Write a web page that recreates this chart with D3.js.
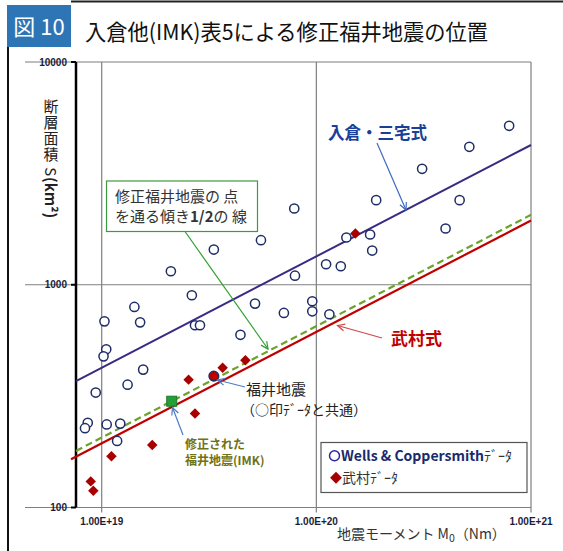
<!DOCTYPE html>
<html>
<head>
<meta charset="utf-8">
<script src="https://cdn.jsdelivr.net/npm/d3@7"></script>
<style>
  body { margin: 0; background: #fff; }
  svg { display: block; font-family: "Noto Sans CJK JP", "Noto Sans", sans-serif; }
</style>
</head>
<body>
<svg id="chart" width="563" height="551"></svg>
<script>
// Wells & Coppersmith dataset: seismic moment M0 (Nm) and fault area S (km²)
const wcM0 = [2.63e19, 1.42e19, 5.18e19, 1.03e19, 1.51e19, 2.72e19, 2.87e19, 7.06e19, 4.43e19,
  1.05e19, 1.02e19, 1.56e19, 1.32e19, 0.938e19, 0.861e19, 0.836e19, 1.055e19, 1.22e19, 1.18e19,
  7.89e19, 5.52e19, 3.33e19, 2.10e19, 7.95e19, 9.57e19, 9.57e19, 11.5e19, 79.1e19, 51.6e19,
  31.1e19, 19.0e19, 46.5e19, 40.0e19, 13.8e19, 17.8e19, 18.2e19, 11.1e19, 13.0e19];
const wcS = [897, 795, 823, 685, 678, 658, 658, 747, 596,
  513, 477, 416, 356, 328, 240, 227, 236, 238, 199,
  2200, 1585, 1439, 1150, 1098, 843, 760, 737, 5172, 4163,
  3314, 2398, 2398, 1789, 1630, 1681, 1424, 1236, 1211];

// Takemura dataset
const tkM0 = [2.54e19, 3.66e19, 4.67e19, 2.72e19, 1.72e19, 1.11e19, 0.889e19, 0.914e19, 15.2e19];
const tkS = [375, 424, 458, 264, 191, 170, 131, 119, 1699];

// Fukui earthquake (shared by both datasets) and the IMK-revised Fukui earthquake
const fukuiM0 = 3.33e19, fukuiS = 389;
const imkM0 = 2.12e19, imkS = 300;

// Scaling relations S = c * M0^(1/2)
const irikuraCoef = 4.24e-11 * Math.sqrt(1e7);   // Irikura–Miyake (dyne·cm converted to Nm)
const takemuraCoef = 6.14e-8;                     // Takemura
const halfSlopeCoef = imkS / Math.sqrt(imkM0);    // slope 1/2 through the revised Fukui point

const yTicks = [100, 1000, 10000];
const yTickLabels = ["100", "1000", "10000"];
const xTicks = [1e19, 1e20, 1e21];
const xTickLabels = ["1.00E+19", "1.00E+20", "1.00E+21"];

const svg = d3.select("#chart");

const x = d3.scaleLog().domain([1e19, 1e21]).range([101.7, 531]);
const y = d3.scaleLog().domain([100, 10000]).range([507.5, 62]);
const plotLeft = 76, plotRight = 531;
const xMin = x.invert(plotLeft);

// ---- frame & header ----
svg.append("line").attr("x1", 8).attr("x2", 8).attr("y1", 47).attr("y2", 551)
  .attr("stroke", "#111").attr("stroke-width", 2);
svg.append("line").attr("x1", 71).attr("x2", 563).attr("y1", 1.5).attr("y2", 1.5)
  .attr("stroke", "#222").attr("stroke-width", 2);
svg.append("rect").attr("x", 7).attr("y", 5).attr("width", 64).attr("height", 42).attr("fill", "#2e75b6");
svg.append("text").attr("x", 39).attr("y", 35).attr("text-anchor", "middle")
  .attr("fill", "#fff").attr("font-size", 22).text("図 10");
svg.append("text").attr("x", 85).attr("y", 40).attr("font-size", 22).attr("fill", "#111")
  .attr("textLength", 403).attr("lengthAdjust", "spacingAndGlyphs")
  .text("入倉他(IMK)表5による修正福井地震の位置");

// ---- grid ----
const grid = svg.append("g").attr("stroke", "#7f7f7f").attr("stroke-width", 1.2);
yTicks.forEach(v => {
  grid.append("line").attr("x1", 25).attr("x2", plotRight).attr("y1", y(v)).attr("y2", y(v));
});
xTicks.forEach(v => {
  grid.append("line").attr("x1", x(v)).attr("x2", x(v)).attr("y1", y(10000)).attr("y2", y(100) + 5);
});

// left axis (thick) with ticks
svg.append("line").attr("x1", plotLeft).attr("x2", plotLeft).attr("y1", y(10000)).attr("y2", y(100))
  .attr("stroke", "#000").attr("stroke-width", 2.5);
yTicks.forEach(v => {
  svg.append("line").attr("x1", plotLeft - 5).attr("x2", plotLeft).attr("y1", y(v)).attr("y2", y(v))
    .attr("stroke", "#000").attr("stroke-width", 2);
});

// tick labels
const tickFont = "'Liberation Sans', Arial, sans-serif";
yTicks.forEach((v, i) => {
  svg.append("text").attr("x", 67).attr("y", y(v) + 3.5).attr("text-anchor", "end")
    .attr("font-family", tickFont).attr("font-size", 10).attr("font-weight", "bold")
    .attr("fill", "#1c1c3a").text(yTickLabels[i]);
});
xTicks.forEach((v, i) => {
  svg.append("text").attr("x", x(v)).attr("y", 525).attr("text-anchor", "middle")
    .attr("font-family", tickFont).attr("font-size", 10).attr("font-weight", "bold")
    .attr("fill", "#1c1c3a").text(xTickLabels[i]);
});

// axis titles
const xt = svg.append("text").attr("x", 337).attr("y", 539).attr("font-size", 14).attr("fill", "#333");
xt.append("tspan").text("地震モーメント M");
xt.append("tspan").attr("font-size", 10.5).attr("dy", 3).text("0");
xt.append("tspan").attr("dy", -3).text("（Nm）");

const yt = svg.append("text").attr("x", 51).attr("y", 99).attr("font-size", 15).attr("fill", "#222")
  .style("writing-mode", "vertical-rl").attr("letter-spacing", 1);
yt.append("tspan").text("断層面積 S");
yt.append("tspan").attr("font-weight", "bold").attr("letter-spacing", 0).text("(km²)");

// ---- relation lines ----
const lineGen = coef => d3.line()
  .x(d => x(d)).y(d => y(coef * Math.sqrt(d)));

svg.append("path").datum([xMin, 1e21]).attr("d", lineGen(irikuraCoef))
  .attr("fill", "none").attr("stroke", "#3b2a84").attr("stroke-width", 2);
svg.append("path").datum([x.invert(71), 1e21]).attr("d", lineGen(takemuraCoef))
  .attr("fill", "none").attr("stroke", "#c00000").attr("stroke-width", 2.2);
svg.append("path").datum([xMin, 1e21]).attr("d", lineGen(halfSlopeCoef))
  .attr("fill", "none").attr("stroke", "#6ba32a").attr("stroke-width", 2.2)
  .attr("stroke-dasharray", "7,4");

// ---- markers ----
svg.append("g").selectAll("circle").data(d3.range(wcM0.length)).join("circle")
  .attr("cx", i => x(wcM0[i])).attr("cy", i => y(wcS[i])).attr("r", 4.6)
  .attr("fill", "#fff").attr("stroke", "#1f2d66").attr("stroke-width", 1.5);

const diamond = d3.symbol().type(d3.symbolDiamond2).size(70);
svg.append("g").selectAll("path").data(d3.range(tkM0.length)).join("path")
  .attr("d", diamond)
  .attr("transform", i => `translate(${x(tkM0[i])},${y(tkS[i])})`)
  .attr("fill", "#a80000");

svg.append("circle").attr("cx", x(fukuiM0)).attr("cy", y(fukuiS)).attr("r", 4.8)
  .attr("fill", "#c00000").attr("stroke", "#1f2d66").attr("stroke-width", 1.5);

svg.append("rect").attr("x", x(imkM0) - 5).attr("y", y(imkS) - 5).attr("width", 10).attr("height", 10)
  .attr("fill", "#22a035").attr("stroke", "#1a7a2a").attr("stroke-width", 1);

// ---- annotations ----
function arrow(x1, y1, x2, y2, color, w) {
  const g = svg.append("g").attr("stroke", color).attr("stroke-width", w || 1.2).attr("fill", "none");
  g.append("line").attr("x1", x1).attr("y1", y1).attr("x2", x2).attr("y2", y2);
  const a = Math.atan2(y2 - y1, x2 - x1), L = 8, s = 0.45;
  g.append("polyline").attr("points", [
    [x2 - L * Math.cos(a - s), y2 - L * Math.sin(a - s)], [x2, y2],
    [x2 - L * Math.cos(a + s), y2 - L * Math.sin(a + s)]].map(p => p.join(",")).join(" "));
}

// Irikura–Miyake label
svg.append("text").attr("x", 328).attr("y", 139).attr("font-size", 17).attr("font-weight", "bold")
  .attr("fill", "#1a3f99").attr("textLength", 99).attr("lengthAdjust", "spacingAndGlyphs")
  .text("入倉・三宅式");
arrow(377, 143, 406, 210, "#3d6bbf");

// Takemura label
svg.append("text").attr("x", 391).attr("y", 345).attr("font-size", 17).attr("font-weight", "bold")
  .attr("fill", "#c00000").text("武村式");
arrow(382, 338, 337.5, 325.5, "#d04848");

// slope-1/2 callout box
svg.append("rect").attr("x", 106.5).attr("y", 181).attr("width", 151).attr("height", 50.5)
  .attr("fill", "#fff").attr("stroke", "#3f9a3f").attr("stroke-width", 1.2);
svg.append("text").attr("x", 115).attr("y", 202).attr("font-size", 15).attr("fill", "#333")
  .text("修正福井地震の 点");
const t2 = svg.append("text").attr("x", 115).attr("y", 222).attr("font-size", 15).attr("fill", "#333");
t2.append("tspan").text("を通る傾き");
t2.append("tspan").attr("font-weight", "bold").text("1/2");
t2.append("tspan").text("の 線");
arrow(185, 231.5, 268, 349, "#2fa02f");

// Fukui earthquake label
svg.append("text").attr("x", 246).attr("y", 395).attr("font-size", 15).attr("fill", "#222").text("福井地震");
svg.append("text").attr("x", 241).attr("y", 415).attr("font-size", 14).attr("fill", "#222").text("（○印ﾃﾞｰﾀと共通）");
arrow(245, 387, 217.5, 380, "#4a7cc8");

// revised Fukui earthquake label
svg.append("text").attr("x", 185).attr("y", 449).attr("font-size", 12).attr("font-weight", "bold")
  .attr("fill", "#6f7215").text("修正された");
svg.append("text").attr("x", 185).attr("y", 465).attr("font-size", 12).attr("font-weight", "bold")
  .attr("fill", "#6f7215").text("福井地震(IMK)");
arrow(183, 435, 172.5, 407.5, "#4a7cc8");

// ---- legend ----
svg.append("rect").attr("x", 321).attr("y", 442.5).attr("width", 206).attr("height", 50)
  .attr("fill", "#fff").attr("stroke", "#555").attr("stroke-width", 1.2);
svg.append("circle").attr("cx", 334.5).attr("cy", 455.7).attr("r", 5)
  .attr("fill", "#fff").attr("stroke", "#2a2aa0").attr("stroke-width", 1.5);
const l1 = svg.append("text").attr("x", 341).attr("y", 461).attr("font-size", 14).attr("fill", "#1a2a6c");
l1.append("tspan").attr("font-weight", 600).text("Wells & Coppersmith");
l1.append("tspan").attr("fill", "#333").text("ﾃﾞｰﾀ");
svg.append("path").attr("d", d3.symbol().type(d3.symbolDiamond2).size(90))
  .attr("transform", "translate(336,477.7)").attr("fill", "#a80000");
svg.append("text").attr("x", 342).attr("y", 483).attr("font-size", 14).attr("fill", "#333").text("武村ﾃﾞｰﾀ");
</script>
</body>
</html>
